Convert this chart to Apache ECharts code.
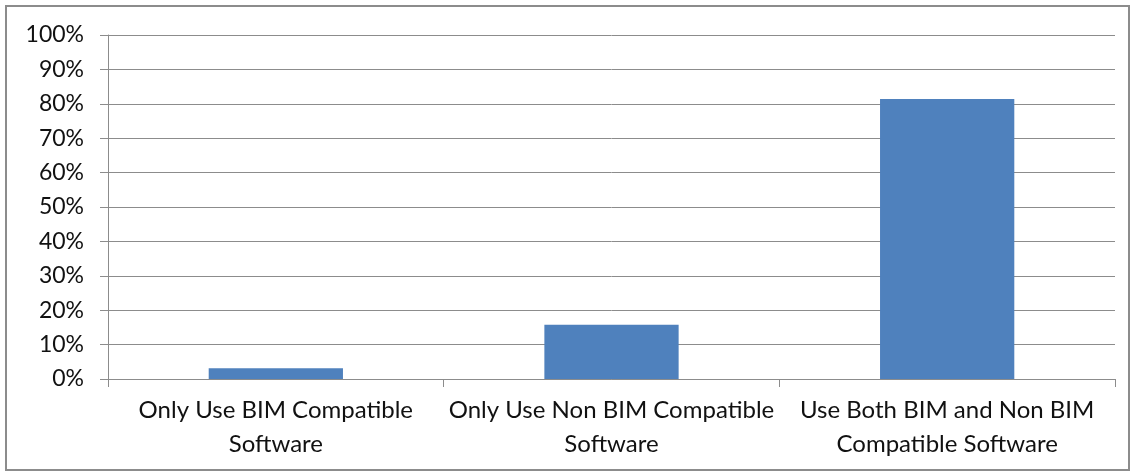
<!DOCTYPE html>
<html>
<head>
<meta charset="utf-8">
<script src="https://cdn.jsdelivr.net/npm/echarts@6/dist/echarts.min.js"></script>
<style>
html,body{margin:0;padding:0;background:#fff;}
#frame{position:absolute;left:5px;top:5px;width:1125px;height:466px;border:2px solid #8c8c8c;box-sizing:border-box;}
#chart{position:absolute;left:0;top:0;width:1135px;height:475px;}
</style>
</head>
<body>
<div id="frame"></div>
<div id="chart"></div>
<script>
const categories = [
  "Only Use BIM Compatible\nSoftware",
  "Only Use Non BIM Compatible\nSoftware",
  "Use Both BIM and Non BIM\nCompatible Software"
];
const values = [3.1, 15.8, 81.4];
const yTicks = [0, 10, 20, 30, 40, 50, 60, 70, 80, 90, 100];

const chart = echarts.init(document.getElementById('chart'));
const FONT = 'Lato';
chart.setOption({
  animation: false,
  backgroundColor: 'transparent',
  grid: {left: 108, right: 20, top: 35, bottom: 96, containLabel: false},
  xAxis: {
    type: 'category',
    data: categories,
    axisLine: {show: true, lineStyle: {color: '#8c8c8c', width: 1}},
    axisTick: {show: true, alignWithLabel: false, length: 8, lineStyle: {color: '#8c8c8c'}},
    axisLabel: {interval: 0, color: '#111', fontFamily: FONT, fontSize: 24, lineHeight: 34, margin: 14}
  },
  yAxis: {
    type: 'value',
    min: yTicks[0],
    max: yTicks[yTicks.length - 1],
    interval: 10,
    axisLine: {show: true, lineStyle: {color: '#8c8c8c', width: 1}},
    axisTick: {show: true, length: 8, lineStyle: {color: '#8c8c8c'}},
    axisLabel: {formatter: '{value}%', color: '#111', fontFamily: FONT, fontSize: 23, margin: 24},
    splitLine: {show: true, lineStyle: {color: '#8c8c8c', width: 1}}
  },
  series: [{
    type: 'bar',
    data: values,
    barWidth: '40%',
    itemStyle: {color: '#4f81bd'}
  }]
});
</script>
</body>
</html>
